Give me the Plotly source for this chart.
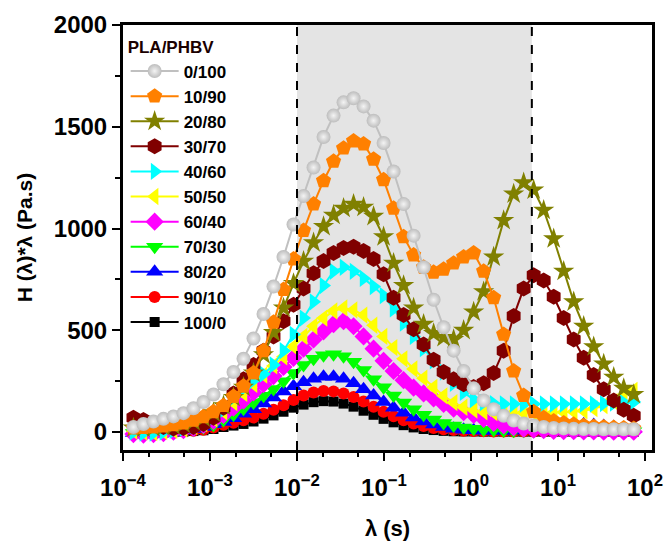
import plotly.graph_objects as go

# relaxation time grid (s)
lam = [1.318e-4, 1.718e-4, 2.239e-4, 2.917e-4, 3.802e-4, 4.955e-4, 6.457e-4, 8.414e-4,
       1.096e-3, 1.429e-3, 1.862e-3, 2.427e-3, 3.162e-3, 4.121e-3, 5.370e-3, 6.998e-3,
       9.120e-3, 1.189e-2, 1.549e-2, 2.018e-2, 2.630e-2, 3.428e-2, 4.467e-2, 5.821e-2,
       7.586e-2, 9.886e-2, 0.1288, 0.1679, 0.2188, 0.2851, 0.3715, 0.4842, 0.6310,
       0.8222, 1.072, 1.396, 1.820, 2.371, 3.090, 4.027, 5.248, 6.839, 8.913, 11.61,
       15.14, 19.72, 25.70, 33.50, 43.65, 56.89, 74.13]

s_0_100 = [25, 40, 52, 65, 77, 93, 117, 148, 185, 235, 295, 360, 460, 580, 715, 860, 1020,
           1160, 1300, 1450, 1555, 1620, 1640, 1600, 1530, 1420, 1280, 1120, 965, 810, 650,
           515, 400, 300, 215, 155, 112, 80, 57, 42, 32, 25, 20, 18, 16, 15, 15, 14, 14, 14, 14]
s_10_90 = [20, 22, 25, 30, 36, 45, 58, 75, 100, 130, 175, 225, 290, 400, 540, 700, 850, 990,
           1120, 1235, 1330, 1395, 1430, 1415, 1340, 1240, 1100, 960, 870, 810, 785, 800, 830,
           860, 880, 790, 660, 480, 300, 180, 100, 70, 55, 45, 38, 32, 28, 25, 22, 20, 18]
s_20_80 = [20, 20, 22, 26, 32, 40, 52, 70, 95, 130, 170, 220, 290, 380, 490, 610, 730, 840,
           930, 1010, 1065, 1100, 1120, 1105, 1060, 960, 830, 720, 610, 530, 485, 465, 455,
           500, 590, 690, 860, 1040, 1170, 1225, 1190, 1090, 950, 790, 640, 520, 420, 335,
           270, 215, 185]
s_30_70 = [70, 60, 40, 25, 18, 20, 25, 40, 70, 120, 190, 260, 330, 400, 470, 545, 625, 705,
           780, 840, 880, 905, 910, 890, 850, 775, 660, 575, 505, 430, 355, 295, 260, 235,
           222, 240, 290, 400, 570, 705, 770, 745, 665, 560, 455, 365, 280, 210, 155, 110, 80]
s_40_60 = [0, -5, -5, 0, 8, 18, 32, 50, 75, 110, 170, 215, 255, 285, 330, 400, 480, 560, 640,
           720, 790, 810, 790, 755, 715, 670, 605, 535, 470, 410, 350, 295, 240, 195, 160,
           145, 140, 138, 138, 138, 138, 138, 138, 138, 138, 138, 138, 140, 142, 145, 148]
s_50_50 = [5, 0, -2, 2, 8, 15, 27, 42, 65, 100, 145, 190, 235, 280, 325, 370, 420, 470, 520,
           560, 595, 610, 600, 575, 525, 470, 415, 360, 310, 265, 220, 178, 145, 122, 108,
           100, 96, 95, 95, 95, 95, 95, 96, 98, 100, 105, 115, 130, 150, 180, 205]
s_60_40 = [-10, -12, -10, -5, 2, 10, 20, 35, 55, 85, 120, 155, 195, 235, 275, 320, 365, 410,
           455, 495, 530, 545, 520, 470, 410, 350, 300, 255, 218, 190, 165, 138, 115, 98, 85,
           65, 45, 33, 24, 17, 12, 9, 6, 5, 4, 3, 3, 2, 2, 2, 2]
s_70_30 = [-5, -8, -8, -5, 0, 5, 12, 22, 35, 60, 85, 115, 145, 178, 212, 250, 290, 330, 360,
           378, 383, 372, 345, 305, 260, 220, 180, 145, 112, 85, 62, 45, 32, 22, 16, 12, 10,
           8, 7, 6, 5, 5, 4, 4, 4, 4, 4, 4, 4, 4, 4]
s_80_20 = [-5, -7, -6, -3, 2, 8, 15, 25, 38, 50, 68, 90, 112, 140, 170, 200, 225, 245, 262,
           272, 272, 262, 240, 210, 180, 148, 120, 95, 72, 52, 37, 25, 17, 12, 9, 7, 6, 6, 7,
           10, 15, 20, 28, 35, 38, 38, 35, 30, 25, 20, 15]
s_90_10 = [-3, -5, -5, -3, 0, 3, 7, 12, 22, 36, 46, 58, 72, 90, 110, 132, 158, 180, 195, 202,
           200, 190, 172, 150, 125, 100, 78, 58, 42, 30, 20, 14, 10, 7, 5, 4, 3, 3, 3, 3, 3,
           3, 3, 3, 3, 3, 3, 3, 3, 3, 3]
s_100_0 = [-3, -5, -5, -3, 0, 2, 5, 9, 15, 25, 32, 40, 52, 66, 82, 100, 120, 135, 147, 152,
           150, 140, 125, 105, 85, 65, 48, 34, 23, 15, 10, 6, 4, 3, 3, 2, 2, 2, 2, 2, 2, 2, 2,
           2, 2, 2, 2, 2, 2, 2, 2]

names = ["0/100", "10/90", "20/80", "30/70", "40/60", "50/50", "60/40", "70/30", "80/20",
         "90/10", "100/0"]
series = [s_0_100, s_10_90, s_20_80, s_30_70, s_40_60, s_50_50, s_60_40, s_70_30, s_80_20,
          s_90_10, s_100_0]
colors = ["#c0c0c0", "#ff8000", "#808000", "#800000", "#00ffff", "#ffff00", "#ff00ff",
          "#00ff00", "#0000ff", "#ff0000", "#000000"]
symbols = ["circle", "pentagon", "star", "hexagon", "triangle-right", "triangle-left",
           "diamond", "triangle-down", "triangle-up", "circle", "square"]
sizes = [14, 16, 16, 16, 15, 15, 14, 15, 15, 12, 10]

x_tickvals = [1e-4, 1e-3, 1e-2, 1e-1, 1e0, 1e1, 1e2]
x_ticktext = ["10<sup>−4</sup>", "10<sup>−3</sup>", "10<sup>−2</sup>", "10<sup>−1</sup>",
              "10<sup>0</sup>", "10<sup>1</sup>", "10<sup>2</sup>"]
y_tickvals = [0, 500, 1000, 1500, 2000]

shade_x0, shade_x1 = 0.01, 5.0

FONT = "Liberation Sans"
fig = go.Figure()

for k in reversed(range(len(names))):
    marker = dict(color=colors[k], symbol=symbols[k], size=sizes[k], line=dict(width=0))
    if k == 0:
        marker["color"] = "#bdbdbd"
        marker["gradient"] = dict(type="radial", color="#f4f4f4")
    fig.add_trace(go.Scatter(
        x=lam, y=series[k], name=names[k], mode="lines+markers",
        line=dict(color=colors[k], width=2),
        marker=marker, legendrank=k + 1,
    ))

fig.add_vrect(x0=shade_x0, x1=shade_x1, fillcolor="#e4e4e4", line_width=0, layer="below")
for xv in (shade_x0, shade_x1):
    fig.add_shape(type="line", x0=xv, x1=xv, xref="x", yref="paper", y0=0, y1=1,
                  line=dict(color="black", width=2, dash="dash"))

fig.update_layout(
    width=664, height=541,
    margin=dict(l=123, r=12, t=25, b=91),
    paper_bgcolor="white", plot_bgcolor="white",
    font=dict(family=FONT, size=22, color="black", weight="bold"),
    showlegend=True,
    legend=dict(
        x=0.005, y=0.985, xanchor="left", yanchor="top",
        bgcolor="rgba(0,0,0,0)", borderwidth=0, itemwidth=48,
        font=dict(family=FONT, size=17, color="black", weight="bold"),
        title=dict(text="PLA/PHBV", font=dict(family=FONT, size=17, color="#1a0000", weight="bold")),
        traceorder="normal",
    ),
    xaxis=dict(
        type="log", range=[-4.0, 2.08], automargin=False,
        showline=True, linecolor="black", linewidth=3, mirror=True,
        ticks="outside", ticklen=8, tickwidth=2, tickcolor="black",
        tickvals=x_tickvals, ticktext=x_ticktext, ticklabelstandoff=6,
        showgrid=False, zeroline=False,
        tickfont=dict(family=FONT, size=24, color="black", weight="bold"),
        minor=dict(ticks="outside", ticklen=4, tickwidth=1.5, tickcolor="black", showgrid=False),
        title=dict(text="λ (s)", font=dict(family=FONT, size=22, color="black", weight="bold"),
                   standoff=22),
    ),
    yaxis=dict(
        range=[-88, 2000], automargin=False,
        showline=True, linecolor="black", linewidth=3, mirror=True,
        ticks="outside", ticklen=8, tickwidth=2, tickcolor="black",
        tickvals=y_tickvals,
        showgrid=False, zeroline=False,
        tickfont=dict(family=FONT, size=24, color="black", weight="bold"),
        minor=dict(tickvals=[250, 750, 1250, 1750], ticks="outside", ticklen=5, tickwidth=2,
                   tickcolor="black", showgrid=False),
        title=dict(text="H (λ)*λ (Pa.s)", font=dict(family=FONT, size=21, color="black", weight="bold"),
                   standoff=16),
    ),
)

fig.write_html("out.html")
